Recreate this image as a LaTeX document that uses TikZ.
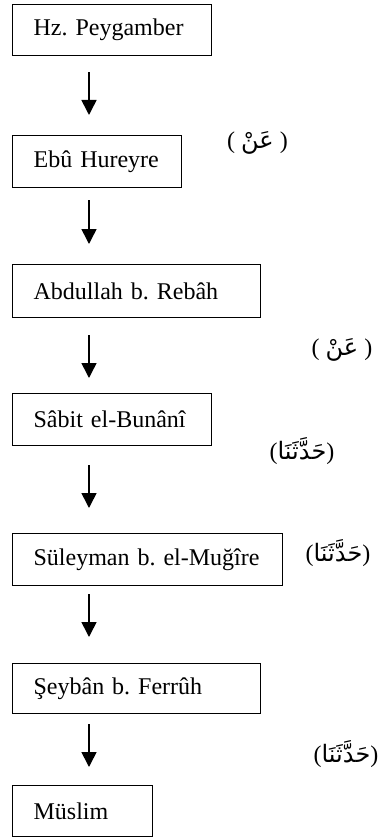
\documentclass[tikz,border=0pt]{standalone}
\usepackage{fontspec}
\setmainfont{Liberation Serif}
\newfontfamily\arabicfont[Script=Arabic]{DejaVu Sans}
\TeXXeTstate=1
\frenchspacing
\usetikzlibrary{arrows.meta}
\begin{document}
\begin{tikzpicture}[x=1pt,y=-1pt,
  box/.style={draw, line width=1.2pt, anchor=north west, inner xsep=21pt, inner ysep=0pt,
    align=left, minimum height=51pt, font=\fontsize{24}{28}\selectfont\frenchspacing},
  arr/.style={line width=1.6pt, -{Triangle[length=15pt,width=15pt]}},
  lab/.style={font=\fontsize{24}{28}\selectfont, inner sep=0pt}]
\useasboundingbox (0,0) rectangle (379,837);
\coordinate (ax) at (89,0);
\node[box, minimum width=199pt, text width=157pt, minimum height=51pt] (b1) at (12,4) {Hz. Peygamber};
\node[box, minimum width=169pt, text width=127pt, minimum height=52pt] (b2) at (12,135) {Ebû Hureyre};
\node[box, minimum width=248pt, text width=206pt, minimum height=53pt] (b3) at (12,264) {Abdullah b. Rebâh};
\node[box, minimum width=199pt, text width=157pt, minimum height=52pt] (b4) at (12,393) {Sâbit el-Bunânî};
\node[box, minimum width=270pt, text width=228pt, minimum height=52pt] (b5) at (12,533) {Süleyman b. el-Muğîre};
\node[box, minimum width=248pt, text width=206pt, minimum height=50pt] (b6) at (12,663) {Şeybân b. Ferrûh};
\node[box, minimum width=140pt, text width=98pt, minimum height=51pt] (b7) at (12,785) {Müslim};
\draw[arr, shorten <=16pt, shorten >=20pt] (b1.south -| ax) -- (b2.north -| ax);
\draw[arr, shorten <=12pt, shorten >=20pt] (b2.south -| ax) -- (b3.north -| ax);
\draw[arr, shorten <=17pt, shorten >=15pt] (b3.south -| ax) -- (b4.north -| ax);
\draw[arr, shorten <=19pt, shorten >=25pt] (b4.south -| ax) -- (b5.north -| ax);
\draw[arr, shorten <=8pt, shorten >=26pt] (b5.south -| ax) -- (b6.north -| ax);
\draw[arr, shorten <=10pt, shorten >=18pt] (b6.south -| ax) -- (b7.north -| ax);
\node[lab] (l1) at (257.5,143) {( {\arabicfont\beginR عَنْ\endR} )};
\node[lab] (l2) at (342,350) {( {\arabicfont\beginR عَنْ\endR} )};
\node[lab] (l3) at (302,451) {({\arabicfont\beginR حَدَّثَنَا\endR})};
\node[lab] (l4) at (338,553) {({\arabicfont\beginR حَدَّثَنَا\endR})};
\node[lab] (l5) at (346,754) {({\arabicfont\beginR حَدَّثَنَا\endR})};
\end{tikzpicture}
\end{document}
